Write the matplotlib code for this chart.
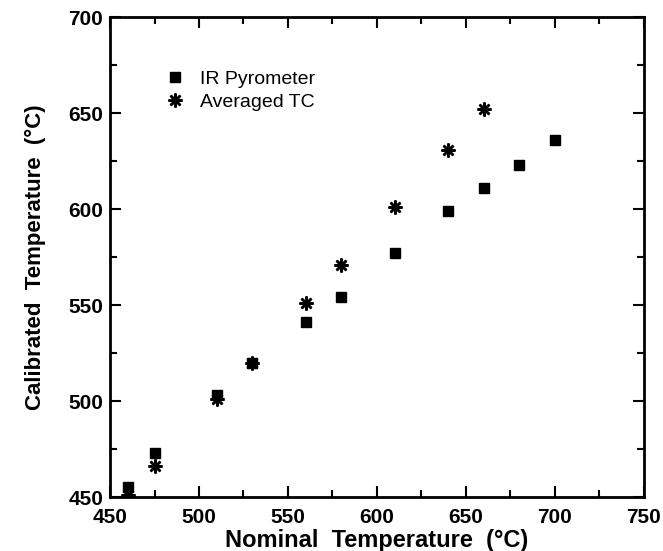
import matplotlib.pyplot as plt
from matplotlib.ticker import MultipleLocator

plt.rcParams['font.family'] = ['Liberation Sans', 'DejaVu Sans']

# IR pyrometer readings
ir_nominal = [460, 475, 510, 530, 560, 580, 610, 640, 660, 680, 700]
ir_calib = [455, 473, 503, 520, 541, 554, 577, 599, 611, 623, 636]

# averaged thermocouple readings
tc_nominal = [460, 475, 510, 530, 560, 580, 610, 640, 660]
tc_calib = [451, 466, 501, 520, 551, 571, 601, 631, 652]

fig = plt.figure(figsize=(6.63, 5.51), dpi=100)
ax = fig.add_axes([0.166, 0.098, 0.805, 0.871])

ax.plot(ir_nominal, ir_calib, 's', color='black', markersize=7, label='IR Pyrometer')
ax.plot(tc_nominal, tc_calib, linestyle='none', marker=(8, 2, 0), color='black',
        markersize=10, markeredgewidth=1.8, label='Averaged TC')

ax.set_xlim(450, 750)
ax.set_ylim(450, 700)
ax.xaxis.set_major_locator(MultipleLocator(50))
ax.xaxis.set_minor_locator(MultipleLocator(25))
ax.yaxis.set_major_locator(MultipleLocator(50))
ax.yaxis.set_minor_locator(MultipleLocator(25))
ax.tick_params(which='both', direction='in', top=True, right=True, width=1.5)
ax.tick_params(which='major', length=8, labelsize=15)
ax.tick_params(axis='x', which='major', pad=8)
ax.tick_params(axis='y', which='major', pad=5)
ax.tick_params(which='minor', length=5)
for lab in ax.get_xticklabels() + ax.get_yticklabels():
    lab.set_fontweight('bold')
for sp in ax.spines.values():
    sp.set_linewidth(2)

ax.set_xlabel('Nominal  Temperature  (°C)', fontsize=17, fontweight='bold', labelpad=1)
ax.set_ylabel('Calibrated  Temperature  (°C)', fontsize=16, fontweight='bold', labelpad=16)

ax.legend(loc='upper left', bbox_to_anchor=(0.07, 0.905), frameon=False,
          fontsize=14, handletextpad=0.3, labelspacing=0.25, borderaxespad=0)

fig.savefig('out.png', dpi=100)
